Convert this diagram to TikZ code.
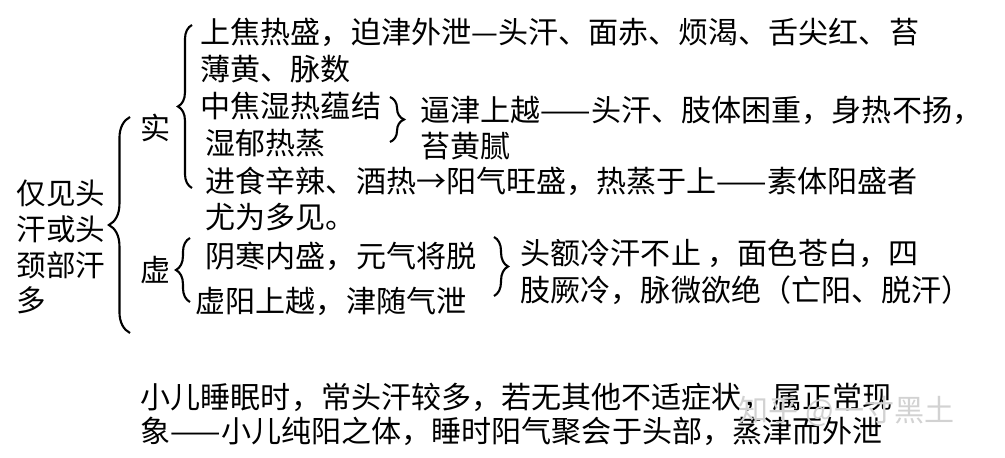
\documentclass[tikz,border=0pt]{standalone}
\usepackage{fontspec}
\newfontfamily\cjk{Noto Sans CJK SC}
\usetikzlibrary{decorations.pathreplacing}
\tikzset{
  txt/.style={anchor=west,inner sep=0pt,font=\cjk\fontsize{8.55pt}{9pt}\selectfont},
  brc/.style={decorate,decoration={brace,amplitude=4pt},line width=0.6pt},
}
\begin{document}
\begin{tikzpicture}[x=0.01cm,y=-0.01cm]
\useasboundingbox (0,0) rectangle (1005,458);
% left
\node[txt,align=left,font=\cjk\fontsize{8.4pt}{10.2pt}\selectfont] (root) at (16,247) {仅见头\\汗或头\\颈部汗\\多};
\coordinate (b0t) at (130,117); \coordinate (b0b) at (130,333);
\draw[brc,decoration={amplitude=6pt}] (b0b) -- (b0t);
\node[txt] (shi) at (140,128) {实};
\node[txt] (xu) at (140,270) {虚};
% shi branch
\coordinate (b1t) at (192,25); \coordinate (b1b) at (192,188);
\draw[brc] (b1b) -- (b1t);
\node[txt] (s1a) at (200,32) {上焦热盛，迫津外泄—头汗、面赤、烦渴、舌尖红、苔};
\node[txt] (s1b) at (200,69) {薄黄、脉数};
\node[txt] (s2a) at (200,106) {中焦湿热蕴结};
\node[txt] (s2b) at (205,143) {湿郁热蒸};
\coordinate (b2t) at (390,97); \coordinate (b2b) at (390,142);
\draw[brc] (b2t) -- (b2b);
\node[txt] (s2c) at (420,110) {逼津上越——头汗、肢体困重，身热不扬，};
\node[txt] (s2d) at (420,146) {苔黄腻};
\node[txt] (s3a) at (205,181) {进食辛辣、酒热→阳气旺盛，热蒸于上——素体阳盛者};
\node[txt] (s3b) at (205,217) {尤为多见。};
% xu branch
\coordinate (b3t) at (190,238); \coordinate (b3b) at (190,302);
\draw[brc] (b3b) -- (b3t);
\node[txt] (x1) at (205,256) {阴寒内盛，元气将脱};
\node[txt] (x2) at (195,301) {虚阳上越，津随气泄};
\coordinate (b4t) at (494,237); \coordinate (b4b) at (494,296);
\draw[brc] (b4t) -- (b4b);
\node[txt] (x3) at (520,253) {头额冷汗不止 ，面色苍白，四};
\node[txt] (x4) at (520,290) {肢厥冷，脉微欲绝（亡阳、脱汗）};
% note
\node[txt] (n1) at (140,397) {小儿睡眠时，常头汗较多，若无其他不适症状，属正常现};
\node[txt] (n2) at (140,431) {象——小儿纯阳之体，睡时阳气聚会于头部，蒸津而外泄};
\node[txt,text=gray!35] (wm) at (738,411) {知乎 @一寸黑土};
\end{tikzpicture}
\end{document}
